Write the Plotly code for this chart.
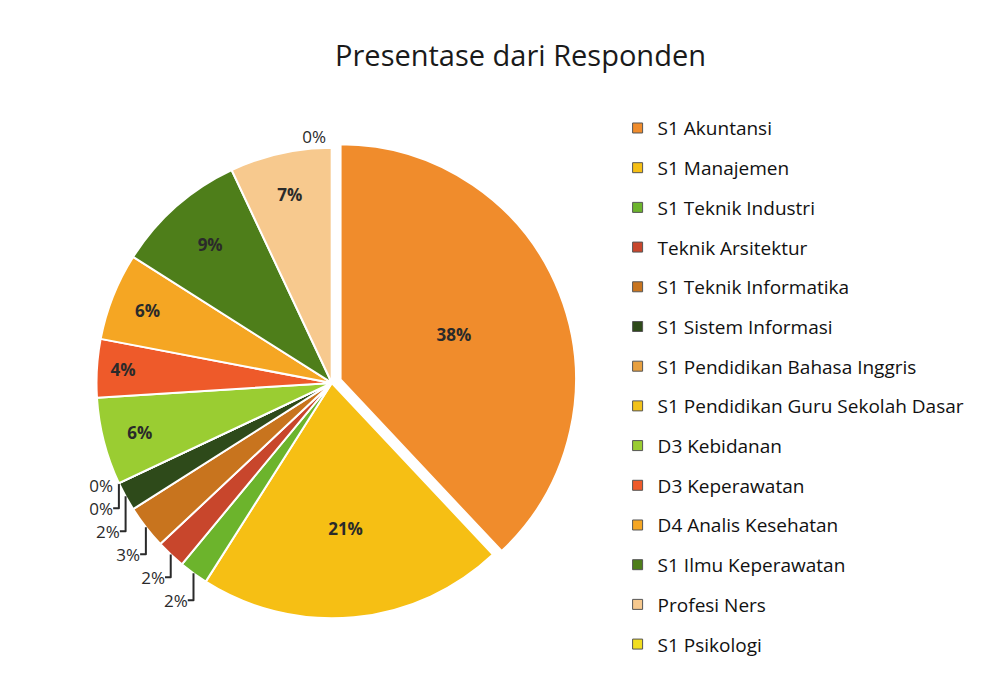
import plotly.graph_objects as go

categories = ["S1 Akuntansi", "S1 Manajemen", "S1 Teknik Industri", "Teknik Arsitektur",
              "S1 Teknik Informatika", "S1 Sistem Informasi", "S1 Pendidikan Bahasa Inggris",
              "S1 Pendidikan Guru Sekolah Dasar", "D3 Kebidanan", "D3 Keperawatan",
              "D4 Analis Kesehatan", "S1 Ilmu Keperawatan", "Profesi Ners", "S1 Psikologi"]
values = [38, 21, 2, 2, 3, 2, 0, 0, 6, 4, 6, 9, 7, 0]
colors = ["#F08C2C", "#F6BF14", "#6CB42C", "#C8462C", "#C8741E", "#2E4A1A", "#E8A040",
          "#F2C21A", "#9ACD32", "#EE5A2A", "#F5A623", "#4E7E1A", "#F7C98E", "#F2DE20"]
text_pos = ["inside", "inside", "outside", "outside", "outside", "outside", "outside",
            "outside", "inside", "inside", "inside", "inside", "inside", "outside"]
pulls = [0.04] + [0] * 13

fig = go.Figure()
fig.add_trace(go.Pie(
    labels=categories, values=values, sort=False, direction="clockwise", rotation=0,
    marker=dict(colors=colors, line=dict(color="white", width=2)),
    pull=pulls, textposition=text_pos, texttemplate="%{percent:.0%}",
    insidetextfont=dict(family="Open Sans", size=17, color="#2a2a2a", weight="bold"),
    outsidetextfont=dict(family="Open Sans", size=17, color="#2a2a2a"),
    insidetextorientation="horizontal",
    domain=dict(x=[0.079, 0.568], y=[0.099, 0.811]),
    showlegend=False, hoverinfo="label+percent",
))

for name, col in zip(categories, colors):
    fig.add_trace(go.Scatter(
        x=[None], y=[None], mode="markers", name=name, legendgroup=name,
        marker=dict(symbol="square", size=10, color=col, line=dict(color="#555", width=1)),
    ))

fig.update_layout(
    width=1001, height=688,
    paper_bgcolor="white", plot_bgcolor="white",
    margin=dict(l=0, r=0, t=0, b=0),
    title=dict(text="Presentase dari Responden", x=0.512, xanchor="center", y=0.93, yanchor="middle",
               font=dict(family="Open Sans", size=29, color="#1a1a1a")),
    xaxis=dict(visible=False), yaxis=dict(visible=False),
    legend=dict(x=0.609, xanchor="left", y=0.853, yanchor="top", tracegroupgap=12,
                font=dict(family="Open Sans", size=19, color="#111111"),
                itemclick=False, itemdoubleclick=False),
)

fig.write_html("out.html")
